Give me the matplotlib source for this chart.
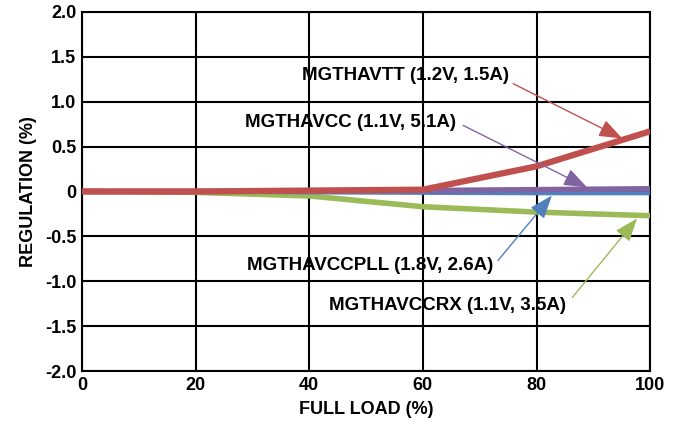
import matplotlib.pyplot as plt

plt.rcParams['font.family'] = ['Liberation Sans', 'DejaVu Sans']

load = [0, 20, 40, 60, 80, 100]
avtt = [0, 0, 0.01, 0.02, 0.28, 0.67]
avcc = [0, 0, 0.005, 0.01, 0.02, 0.03]
avccpll = [0, 0, -0.01, -0.015, -0.02, -0.02]
avccrx = [0, -0.01, -0.05, -0.17, -0.23, -0.27]

labels = ['MGTHAVTT (1.2V, 1.5A)', 'MGTHAVCC (1.1V, 5.1A)',
          'MGTHAVCCPLL (1.8V, 2.6A)', 'MGTHAVCCRX (1.1V, 3.5A)']
colors = ['#C0504D', '#8064A2', '#4F81BD', '#9BBB59']

fig = plt.figure(figsize=(6.78, 4.25), dpi=100)
ax = fig.add_axes([0.121, 0.127, 0.838, 0.845])

ax.plot(load, avccrx, color=colors[3], linewidth=4.0, solid_capstyle='butt', zorder=3)
ax.plot(load, avccpll, color=colors[2], linewidth=3.0, solid_capstyle='butt', zorder=4)
ax.plot(load, avcc, color=colors[1], linewidth=4.0, solid_capstyle='butt', zorder=5)
ax.plot(load, avtt, color=colors[0], linewidth=4.5, solid_capstyle='butt', zorder=6)

ax.set_xlim(0, 100)
ax.set_ylim(-2, 2)
ax.set_xticks([0, 20, 40, 60, 80, 100])
ax.set_yticks([-2, -1.5, -1, -0.5, 0, 0.5, 1, 1.5, 2])
ax.set_yticklabels(['-2.0', '-1.5', '-1.0', '-0.5', '0', '0.5', '1.0', '1.5', '2.0'])
ax.tick_params(length=0, labelsize=13, pad=4)
for t in ax.get_xticklabels() + ax.get_yticklabels():
    t.set_fontweight('bold')
ax.grid(True, color='black', linewidth=1.5)
ax.set_axisbelow(True)
for s in ax.spines.values():
    s.set_linewidth(1.5)

ax.set_xlabel('FULL LOAD (%)', fontsize=13, fontweight='bold', labelpad=5)
ax.set_ylabel('REGULATION (%)', fontsize=13, fontweight='bold', labelpad=6)

# text position, arrow start, arrow tip (data coords)
text_pos = [(38.7, 1.29), (28.7, 0.77), (29.0, -0.82), (43.5, -1.27)]
arrow_from = [(75.9, 1.20), (67.1, 0.735), (73.2, -0.77), (86.3, -1.18)]
arrow_to = [(95.1, 0.59), (88.9, 0.045), (82.7, -0.045), (97.7, -0.30)]

for lab, c, tp, a0, a1 in zip(labels, colors, text_pos, arrow_from, arrow_to):
    ax.annotate('', xy=a1, xytext=a0, zorder=9,
                arrowprops=dict(arrowstyle='-|>,head_length=0.8,head_width=0.3',
                                color=c, lw=1.0, mutation_scale=18,
                                shrinkA=0, shrinkB=0))
    ax.text(tp[0], tp[1], lab, fontsize=13.5, fontweight='bold', va='center', zorder=10)

fig.savefig('out.png', dpi=100)
